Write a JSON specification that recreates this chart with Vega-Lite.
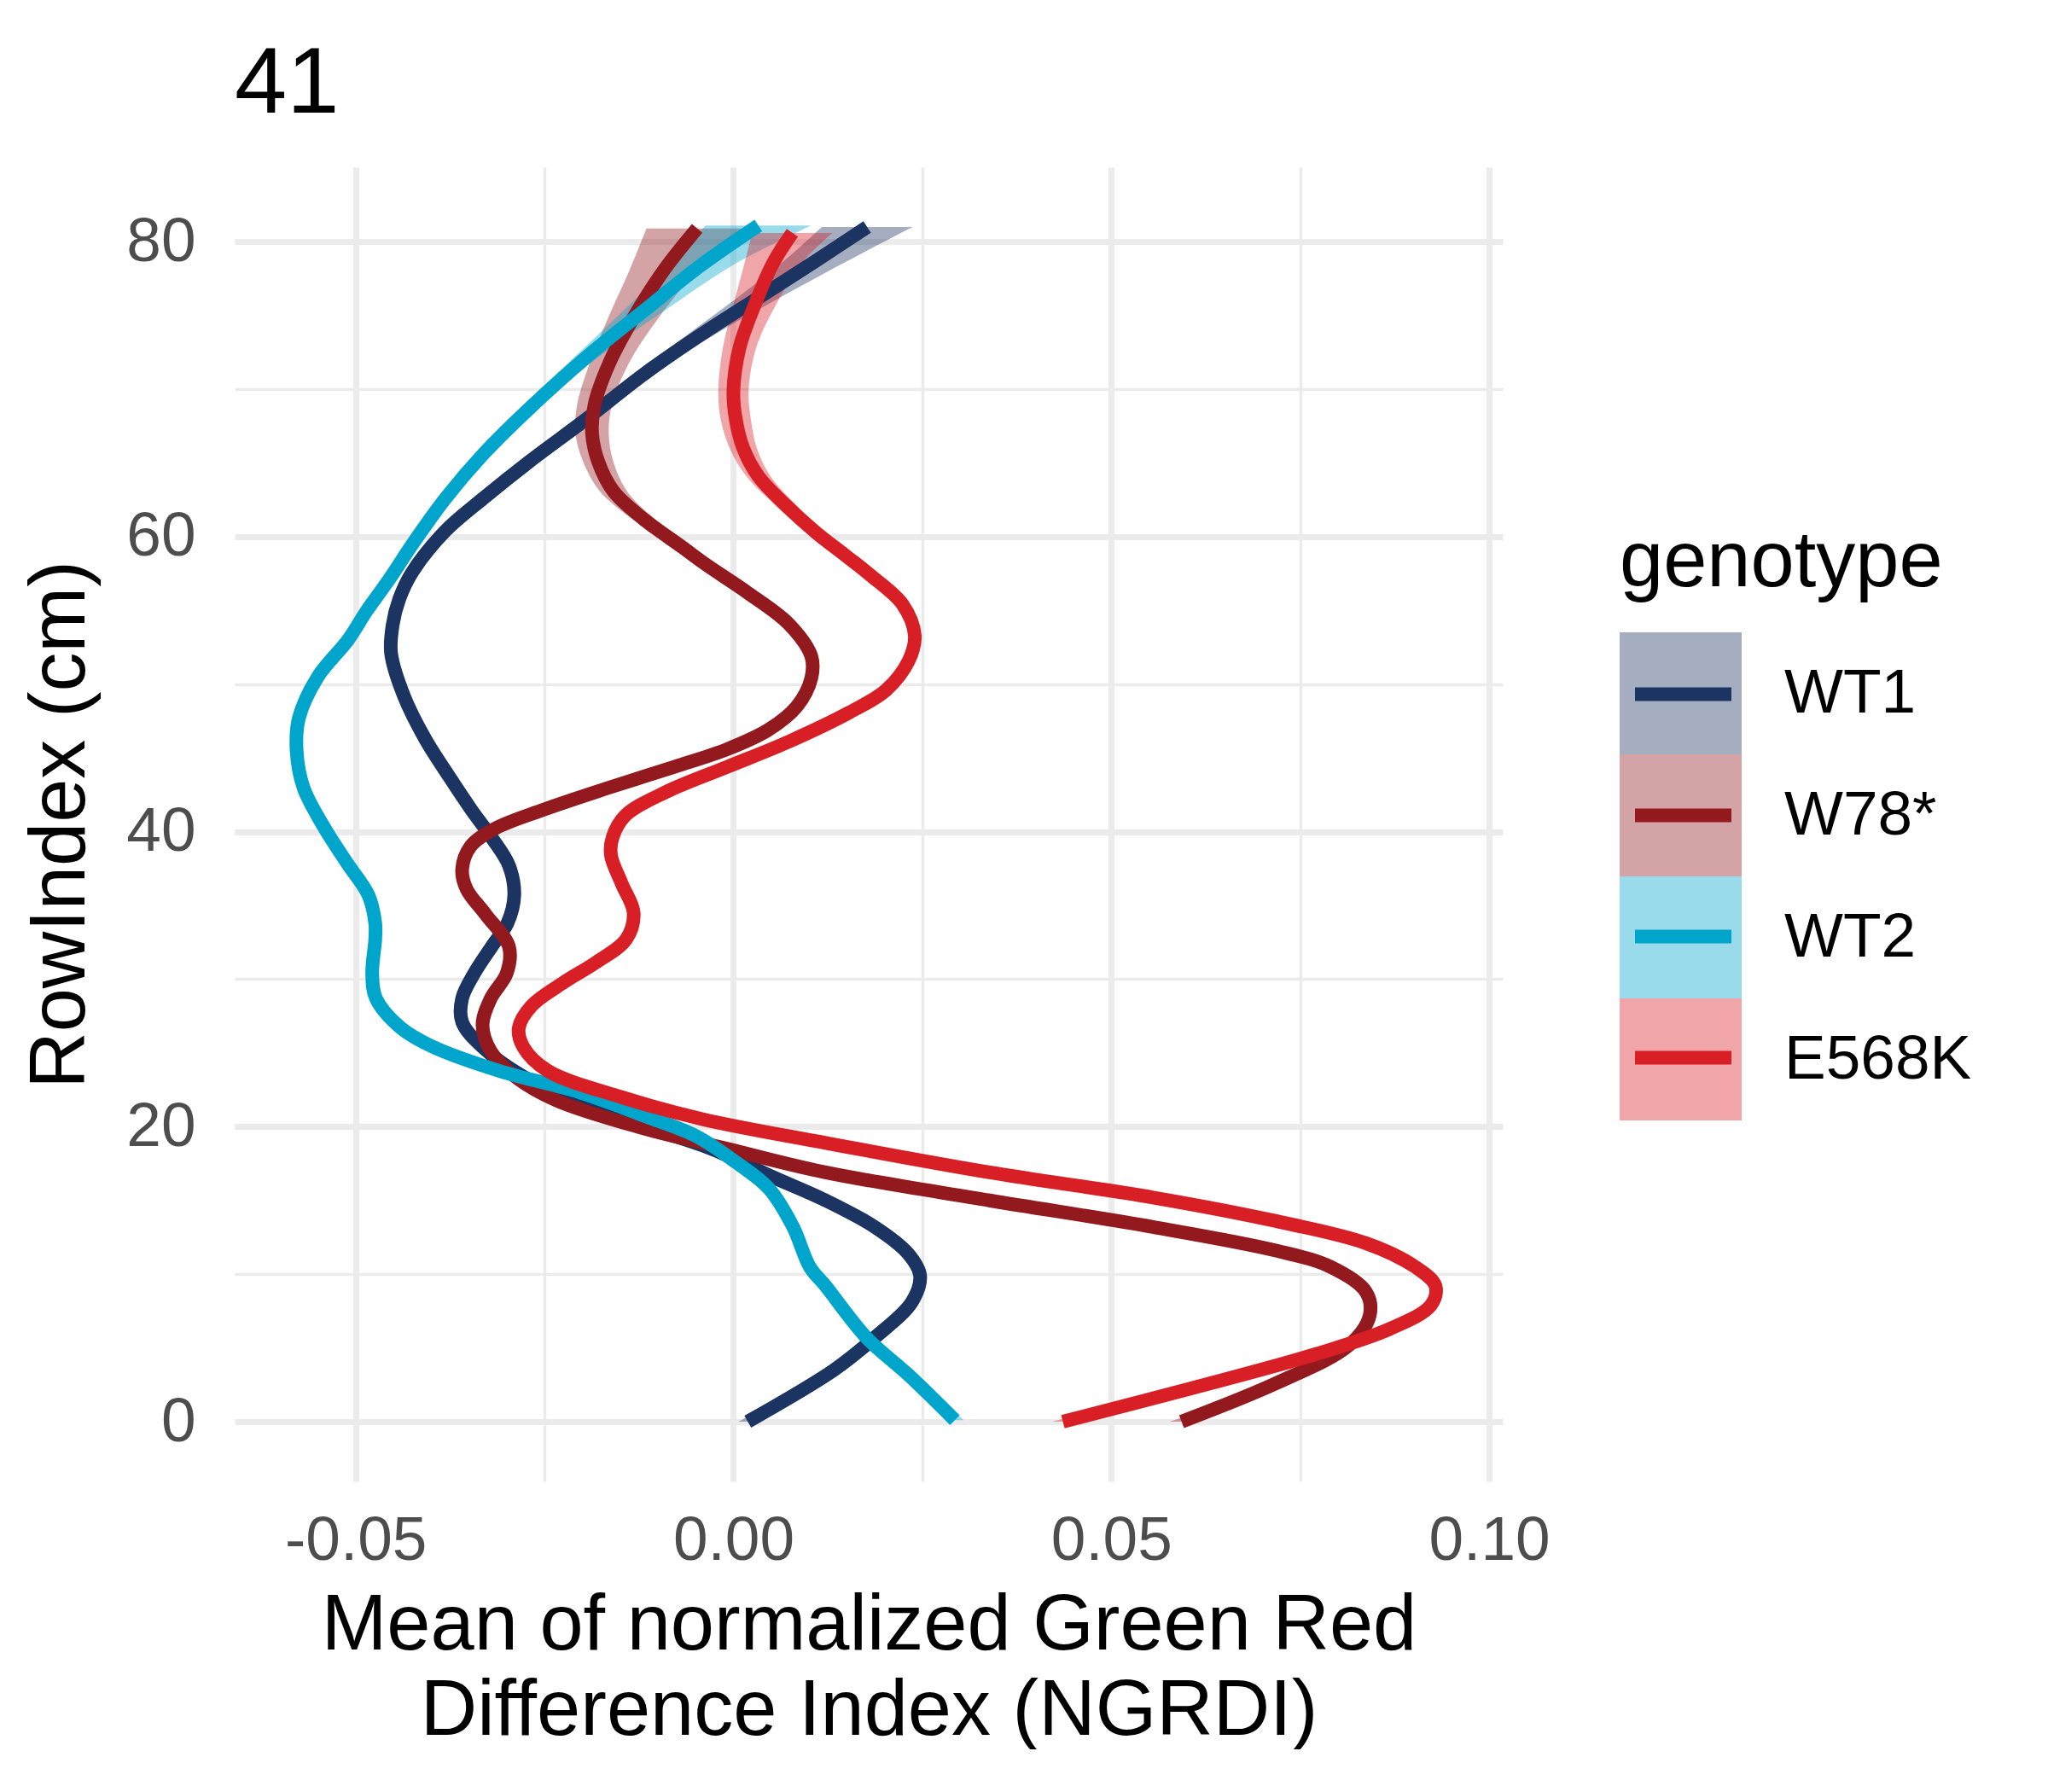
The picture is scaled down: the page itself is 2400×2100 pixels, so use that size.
{
  "$schema": "https://vega.github.io/schema/vega-lite/v6.json",
  "description": "Smoothed NGRDI by RowIndex for four genotypes (panel 41)",
  "width": 1486,
  "height": 1540,
  "padding": {"left": 24, "top": 44, "right": 0, "bottom": 0},
  "background": "white",
  "title": {
    "text": "41",
    "anchor": "start",
    "frame": "group",
    "baseline": "bottom",
    "offset": -69,
    "font": "Liberation Sans",
    "fontSize": 110,
    "fontWeight": "normal",
    "color": "black"
  },
  "data": {
    "values": [
      {"g": "WT1", "y": 0, "x": 0.0019, "lo": 0.0007, "hi": 0.0031},
      {"g": "WT1", "y": 3.5, "x": 0.0133, "lo": 0.0124, "hi": 0.0142},
      {"g": "WT1", "y": 5.7, "x": 0.0187, "lo": 0.018, "hi": 0.0194},
      {"g": "WT1", "y": 8.1, "x": 0.0236, "lo": 0.0229, "hi": 0.0243},
      {"g": "WT1", "y": 9.9, "x": 0.0247, "lo": 0.024, "hi": 0.0254},
      {"g": "WT1", "y": 11.4, "x": 0.0231, "lo": 0.0224, "hi": 0.0238},
      {"g": "WT1", "y": 13.2, "x": 0.0187, "lo": 0.018, "hi": 0.0194},
      {"g": "WT1", "y": 15, "x": 0.0122, "lo": 0.0115, "hi": 0.0129},
      {"g": "WT1", "y": 16.7, "x": 0.0047, "lo": 0.004, "hi": 0.0054},
      {"g": "WT1", "y": 18.5, "x": -0.0029, "lo": -0.0036, "hi": -0.0022},
      {"g": "WT1", "y": 20, "x": -0.0116, "lo": -0.0123, "hi": -0.0109},
      {"g": "WT1", "y": 21.6, "x": -0.0202, "lo": -0.0209, "hi": -0.0195},
      {"g": "WT1", "y": 23.4, "x": -0.0278, "lo": -0.0285, "hi": -0.0271},
      {"g": "WT1", "y": 25.4, "x": -0.0332, "lo": -0.0339, "hi": -0.0325},
      {"g": "WT1", "y": 27.1, "x": -0.0359, "lo": -0.0366, "hi": -0.0352},
      {"g": "WT1", "y": 28.7, "x": -0.0359, "lo": -0.0366, "hi": -0.0352},
      {"g": "WT1", "y": 30.4, "x": -0.0343, "lo": -0.035, "hi": -0.0336},
      {"g": "WT1", "y": 32.2, "x": -0.032, "lo": -0.0327, "hi": -0.0313},
      {"g": "WT1", "y": 33.8, "x": -0.0299, "lo": -0.0306, "hi": -0.0292},
      {"g": "WT1", "y": 35.7, "x": -0.029, "lo": -0.0297, "hi": -0.0283},
      {"g": "WT1", "y": 37.7, "x": -0.0297, "lo": -0.0304, "hi": -0.029},
      {"g": "WT1", "y": 39.6, "x": -0.032, "lo": -0.0327, "hi": -0.0313},
      {"g": "WT1", "y": 41.5, "x": -0.0347, "lo": -0.0354, "hi": -0.034},
      {"g": "WT1", "y": 43.8, "x": -0.0377, "lo": -0.0384, "hi": -0.037},
      {"g": "WT1", "y": 46.3, "x": -0.0408, "lo": -0.0415, "hi": -0.0401},
      {"g": "WT1", "y": 49.2, "x": -0.0436, "lo": -0.0443, "hi": -0.0429},
      {"g": "WT1", "y": 52.1, "x": -0.0453, "lo": -0.046, "hi": -0.0446},
      {"g": "WT1", "y": 54, "x": -0.0451, "lo": -0.0458, "hi": -0.0444},
      {"g": "WT1", "y": 55.8, "x": -0.0442, "lo": -0.0449, "hi": -0.0435},
      {"g": "WT1", "y": 57.6, "x": -0.0425, "lo": -0.0432, "hi": -0.0418},
      {"g": "WT1", "y": 60.4, "x": -0.0381, "lo": -0.0388, "hi": -0.0374},
      {"g": "WT1", "y": 62.6, "x": -0.0331, "lo": -0.0338, "hi": -0.0324},
      {"g": "WT1", "y": 65.1, "x": -0.027, "lo": -0.0278, "hi": -0.0262},
      {"g": "WT1", "y": 68, "x": -0.0194, "lo": -0.0203, "hi": -0.0185},
      {"g": "WT1", "y": 71, "x": -0.0119, "lo": -0.0131, "hi": -0.0107},
      {"g": "WT1", "y": 73.7, "x": -0.0043, "lo": -0.0061, "hi": -0.0025},
      {"g": "WT1", "y": 76.2, "x": 0.0033, "lo": 0.0005, "hi": 0.0061},
      {"g": "WT1", "y": 78.7, "x": 0.0109, "lo": 0.0067, "hi": 0.0151},
      {"g": "WT1", "y": 81, "x": 0.0177, "lo": 0.0117, "hi": 0.0237},

      {"g": "W78*", "y": 0, "x": 0.0593, "lo": 0.0578, "hi": 0.0608},
      {"g": "W78*", "y": 2.6, "x": 0.0718, "lo": 0.0708, "hi": 0.0728},
      {"g": "W78*", "y": 5.2, "x": 0.0815, "lo": 0.0807, "hi": 0.0823},
      {"g": "W78*", "y": 7.2, "x": 0.0842, "lo": 0.0834, "hi": 0.085},
      {"g": "W78*", "y": 8.8, "x": 0.0837, "lo": 0.0829, "hi": 0.0845},
      {"g": "W78*", "y": 10.5, "x": 0.079, "lo": 0.0782, "hi": 0.0798},
      {"g": "W78*", "y": 11.6, "x": 0.0718, "lo": 0.071, "hi": 0.0726},
      {"g": "W78*", "y": 13.2, "x": 0.0555, "lo": 0.0547, "hi": 0.0563},
      {"g": "W78*", "y": 15, "x": 0.0339, "lo": 0.0331, "hi": 0.0347},
      {"g": "W78*", "y": 16.9, "x": 0.0122, "lo": 0.0114, "hi": 0.013},
      {"g": "W78*", "y": 18.5, "x": -0.0008, "lo": -0.0016, "hi": 0.0},
      {"g": "W78*", "y": 20, "x": -0.0127, "lo": -0.0135, "hi": -0.0119},
      {"g": "W78*", "y": 21.8, "x": -0.0235, "lo": -0.0243, "hi": -0.0227},
      {"g": "W78*", "y": 23.4, "x": -0.0289, "lo": -0.0297, "hi": -0.0281},
      {"g": "W78*", "y": 25.1, "x": -0.0321, "lo": -0.0329, "hi": -0.0313},
      {"g": "W78*", "y": 26.9, "x": -0.0332, "lo": -0.034, "hi": -0.0324},
      {"g": "W78*", "y": 28.7, "x": -0.0321, "lo": -0.0329, "hi": -0.0313},
      {"g": "W78*", "y": 30.4, "x": -0.03, "lo": -0.0308, "hi": -0.0292},
      {"g": "W78*", "y": 32.2, "x": -0.0297, "lo": -0.0305, "hi": -0.0289},
      {"g": "W78*", "y": 34.4, "x": -0.0328, "lo": -0.0336, "hi": -0.032},
      {"g": "W78*", "y": 36.1, "x": -0.0353, "lo": -0.0361, "hi": -0.0345},
      {"g": "W78*", "y": 37.4, "x": -0.0359, "lo": -0.0367, "hi": -0.0351},
      {"g": "W78*", "y": 39, "x": -0.0348, "lo": -0.0356, "hi": -0.034},
      {"g": "W78*", "y": 40.2, "x": -0.0316, "lo": -0.0324, "hi": -0.0308},
      {"g": "W78*", "y": 41.5, "x": -0.0251, "lo": -0.0259, "hi": -0.0243},
      {"g": "W78*", "y": 42.9, "x": -0.017, "lo": -0.0178, "hi": -0.0162},
      {"g": "W78*", "y": 44.4, "x": -0.0078, "lo": -0.0086, "hi": -0.007},
      {"g": "W78*", "y": 45.6, "x": -0.0008, "lo": -0.0016, "hi": 0.0},
      {"g": "W78*", "y": 46.9, "x": 0.0046, "lo": 0.0038, "hi": 0.0054},
      {"g": "W78*", "y": 48.5, "x": 0.0084, "lo": 0.0076, "hi": 0.0092},
      {"g": "W78*", "y": 50.4, "x": 0.0103, "lo": 0.0095, "hi": 0.0111},
      {"g": "W78*", "y": 51.9, "x": 0.0103, "lo": 0.0095, "hi": 0.0111},
      {"g": "W78*", "y": 54.1, "x": 0.0073, "lo": 0.0065, "hi": 0.0081},
      {"g": "W78*", "y": 56.2, "x": 0.0019, "lo": 0.001, "hi": 0.0028},
      {"g": "W78*", "y": 58.1, "x": -0.0036, "lo": -0.0047, "hi": -0.0025},
      {"g": "W78*", "y": 59.3, "x": -0.0068, "lo": -0.0081, "hi": -0.0055},
      {"g": "W78*", "y": 61.2, "x": -0.0119, "lo": -0.0134, "hi": -0.0104},
      {"g": "W78*", "y": 63.1, "x": -0.0159, "lo": -0.0177, "hi": -0.0141},
      {"g": "W78*", "y": 65.1, "x": -0.0179, "lo": -0.0199, "hi": -0.0159},
      {"g": "W78*", "y": 67, "x": -0.0187, "lo": -0.0209, "hi": -0.0165},
      {"g": "W78*", "y": 68.9, "x": -0.0184, "lo": -0.0207, "hi": -0.0161},
      {"g": "W78*", "y": 71.8, "x": -0.0164, "lo": -0.019, "hi": -0.0138},
      {"g": "W78*", "y": 74.7, "x": -0.0134, "lo": -0.0167, "hi": -0.0101},
      {"g": "W78*", "y": 78, "x": -0.0093, "lo": -0.0138, "hi": -0.0048},
      {"g": "W78*", "y": 80.9, "x": -0.0048, "lo": -0.0115, "hi": 0.0019},

      {"g": "WT2", "y": 0.1, "x": 0.0293, "lo": 0.0281, "hi": 0.0305},
      {"g": "WT2", "y": 3.2, "x": 0.0231, "lo": 0.0222, "hi": 0.024},
      {"g": "WT2", "y": 5.7, "x": 0.0176, "lo": 0.0169, "hi": 0.0183},
      {"g": "WT2", "y": 9.2, "x": 0.0122, "lo": 0.0115, "hi": 0.0129},
      {"g": "WT2", "y": 10.5, "x": 0.0101, "lo": 0.0094, "hi": 0.0108},
      {"g": "WT2", "y": 13.2, "x": 0.0079, "lo": 0.0072, "hi": 0.0086},
      {"g": "WT2", "y": 15.8, "x": 0.0047, "lo": 0.004, "hi": 0.0054},
      {"g": "WT2", "y": 17.6, "x": 0.0003, "lo": -0.0004, "hi": 0.001},
      {"g": "WT2", "y": 19.4, "x": -0.0051, "lo": -0.0058, "hi": -0.0044},
      {"g": "WT2", "y": 20.7, "x": -0.0116, "lo": -0.0123, "hi": -0.0109},
      {"g": "WT2", "y": 22.3, "x": -0.0202, "lo": -0.0209, "hi": -0.0195},
      {"g": "WT2", "y": 23.8, "x": -0.0311, "lo": -0.0318, "hi": -0.0304},
      {"g": "WT2", "y": 25.4, "x": -0.0397, "lo": -0.0404, "hi": -0.039},
      {"g": "WT2", "y": 26.7, "x": -0.044, "lo": -0.0447, "hi": -0.0433},
      {"g": "WT2", "y": 28.7, "x": -0.0473, "lo": -0.048, "hi": -0.0466},
      {"g": "WT2", "y": 30.4, "x": -0.0478, "lo": -0.0485, "hi": -0.0471},
      {"g": "WT2", "y": 32.7, "x": -0.0474, "lo": -0.0481, "hi": -0.0467},
      {"g": "WT2", "y": 33.8, "x": -0.0474, "lo": -0.0481, "hi": -0.0467},
      {"g": "WT2", "y": 35.7, "x": -0.0483, "lo": -0.049, "hi": -0.0476},
      {"g": "WT2", "y": 38, "x": -0.0513, "lo": -0.052, "hi": -0.0506},
      {"g": "WT2", "y": 40.5, "x": -0.0544, "lo": -0.0551, "hi": -0.0537},
      {"g": "WT2", "y": 43, "x": -0.0569, "lo": -0.0576, "hi": -0.0562},
      {"g": "WT2", "y": 45.5, "x": -0.0578, "lo": -0.0585, "hi": -0.0571},
      {"g": "WT2", "y": 47.7, "x": -0.0575, "lo": -0.0582, "hi": -0.0568},
      {"g": "WT2", "y": 50.5, "x": -0.055, "lo": -0.0557, "hi": -0.0543},
      {"g": "WT2", "y": 53, "x": -0.051, "lo": -0.0517, "hi": -0.0503},
      {"g": "WT2", "y": 55, "x": -0.0485, "lo": -0.0492, "hi": -0.0478},
      {"g": "WT2", "y": 57, "x": -0.0457, "lo": -0.0464, "hi": -0.045},
      {"g": "WT2", "y": 59.7, "x": -0.0422, "lo": -0.0429, "hi": -0.0415},
      {"g": "WT2", "y": 62.6, "x": -0.0381, "lo": -0.0388, "hi": -0.0374},
      {"g": "WT2", "y": 65.6, "x": -0.0331, "lo": -0.0339, "hi": -0.0323},
      {"g": "WT2", "y": 68.7, "x": -0.027, "lo": -0.028, "hi": -0.026},
      {"g": "WT2", "y": 72.2, "x": -0.0194, "lo": -0.021, "hi": -0.0178},
      {"g": "WT2", "y": 75.3, "x": -0.0119, "lo": -0.0146, "hi": -0.0092},
      {"g": "WT2", "y": 78.4, "x": -0.0043, "lo": -0.0085, "hi": -0.0001},
      {"g": "WT2", "y": 81.1, "x": 0.0033, "lo": -0.0037, "hi": 0.0103},

      {"g": "E568K", "y": 0, "x": 0.0436, "lo": 0.0421, "hi": 0.0451},
      {"g": "E568K", "y": 2.3, "x": 0.0609, "lo": 0.0599, "hi": 0.0619},
      {"g": "E568K", "y": 4.6, "x": 0.0772, "lo": 0.0764, "hi": 0.078},
      {"g": "E568K", "y": 6.3, "x": 0.0869, "lo": 0.0861, "hi": 0.0877},
      {"g": "E568K", "y": 7.9, "x": 0.0923, "lo": 0.0915, "hi": 0.0931},
      {"g": "E568K", "y": 9.2, "x": 0.0929, "lo": 0.0921, "hi": 0.0937},
      {"g": "E568K", "y": 10.5, "x": 0.0902, "lo": 0.0894, "hi": 0.091},
      {"g": "E568K", "y": 12.1, "x": 0.0837, "lo": 0.0829, "hi": 0.0845},
      {"g": "E568K", "y": 13.6, "x": 0.0718, "lo": 0.071, "hi": 0.0726},
      {"g": "E568K", "y": 15.2, "x": 0.0555, "lo": 0.0547, "hi": 0.0563},
      {"g": "E568K", "y": 16.9, "x": 0.0339, "lo": 0.0331, "hi": 0.0347},
      {"g": "E568K", "y": 18.9, "x": 0.0122, "lo": 0.0114, "hi": 0.013},
      {"g": "E568K", "y": 20.5, "x": -0.004, "lo": -0.0048, "hi": -0.0032},
      {"g": "E568K", "y": 22, "x": -0.0148, "lo": -0.0156, "hi": -0.014},
      {"g": "E568K", "y": 23.8, "x": -0.0246, "lo": -0.0254, "hi": -0.0238},
      {"g": "E568K", "y": 25.4, "x": -0.0278, "lo": -0.0286, "hi": -0.027},
      {"g": "E568K", "y": 26.7, "x": -0.0284, "lo": -0.0292, "hi": -0.0276},
      {"g": "E568K", "y": 28.2, "x": -0.0267, "lo": -0.0275, "hi": -0.0259},
      {"g": "E568K", "y": 29.8, "x": -0.0224, "lo": -0.0232, "hi": -0.0216},
      {"g": "E568K", "y": 31.1, "x": -0.0183, "lo": -0.0191, "hi": -0.0175},
      {"g": "E568K", "y": 32.7, "x": -0.0142, "lo": -0.015, "hi": -0.0134},
      {"g": "E568K", "y": 34.5, "x": -0.0132, "lo": -0.014, "hi": -0.0124},
      {"g": "E568K", "y": 36.5, "x": -0.0148, "lo": -0.0156, "hi": -0.014},
      {"g": "E568K", "y": 38.4, "x": -0.0162, "lo": -0.017, "hi": -0.0154},
      {"g": "E568K", "y": 39.6, "x": -0.016, "lo": -0.0168, "hi": -0.0152},
      {"g": "E568K", "y": 41.1, "x": -0.0143, "lo": -0.0151, "hi": -0.0135},
      {"g": "E568K", "y": 42.7, "x": -0.0089, "lo": -0.0097, "hi": -0.0081},
      {"g": "E568K", "y": 44.4, "x": -0.0008, "lo": -0.0016, "hi": 0.0},
      {"g": "E568K", "y": 46.1, "x": 0.0073, "lo": 0.0065, "hi": 0.0081},
      {"g": "E568K", "y": 48.1, "x": 0.0154, "lo": 0.0146, "hi": 0.0162},
      {"g": "E568K", "y": 49.6, "x": 0.0202, "lo": 0.0194, "hi": 0.021},
      {"g": "E568K", "y": 51.6, "x": 0.0232, "lo": 0.0224, "hi": 0.024},
      {"g": "E568K", "y": 53.3, "x": 0.024, "lo": 0.0232, "hi": 0.0248},
      {"g": "E568K", "y": 55.4, "x": 0.0224, "lo": 0.0216, "hi": 0.0232},
      {"g": "E568K", "y": 57.4, "x": 0.0181, "lo": 0.0172, "hi": 0.019},
      {"g": "E568K", "y": 58.7, "x": 0.0149, "lo": 0.0139, "hi": 0.0159},
      {"g": "E568K", "y": 60.3, "x": 0.0109, "lo": 0.0097, "hi": 0.0121},
      {"g": "E568K", "y": 62.2, "x": 0.0068, "lo": 0.0054, "hi": 0.0082},
      {"g": "E568K", "y": 64.1, "x": 0.0033, "lo": 0.0017, "hi": 0.0049},
      {"g": "E568K", "y": 66, "x": 0.0013, "lo": -0.0005, "hi": 0.0031},
      {"g": "E568K", "y": 68, "x": 0.0003, "lo": -0.0017, "hi": 0.0023},
      {"g": "E568K", "y": 69.9, "x": 0.0, "lo": -0.002, "hi": 0.002},
      {"g": "E568K", "y": 72.8, "x": 0.0008, "lo": -0.0014, "hi": 0.003},
      {"g": "E568K", "y": 75.7, "x": 0.0028, "lo": 0.0, "hi": 0.0056},
      {"g": "E568K", "y": 78.6, "x": 0.0053, "lo": 0.0015, "hi": 0.0091},
      {"g": "E568K", "y": 80.6, "x": 0.0078, "lo": 0.0025, "hi": 0.0131}
    ]
  },
  "encoding": {
    "y": {
      "field": "y",
      "type": "quantitative",
      "title": "RowIndex (cm)",
      "scale": {"domain": [-4.05, 85.05], "nice": false, "zero": false},
      "axis": {
        "values": [0, 10, 20, 30, 40, 50, 60, 70, 80],
        "labelExpr": "datum.value % 20 === 0 ? datum.label : ''",
        "gridWidth": {"condition": {"test": "datum.value % 20 === 0", "value": 7}, "value": 3.5},
        "labelPadding": 46,
        "titlePadding": 30
      }
    }
  },
  "layer": [
    {
      "mark": {"type": "area", "orient": "horizontal", "fillOpacity": 0.4, "interpolate": "catmull-rom"},
      "encoding": {
        "x": {
          "field": "lo",
          "type": "quantitative",
          "title": ["Mean of normalized Green Red", "Difference Index (NGRDI)"],
          "scale": {"domain": [-0.066, 0.1018], "nice": false, "zero": false},
          "axis": {
            "values": [-0.05, -0.025, 0, 0.025, 0.05, 0.075, 0.1],
            "labelExpr": "abs(datum.value * 20 - round(datum.value * 20)) < 0.001 ? replace(format(datum.value, '.2f'), '\u2212', '-') : ''",
            "gridWidth": {"condition": {"test": "abs(datum.value * 20 - round(datum.value * 20)) < 0.001", "value": 7}, "value": 3.5},
            "labelPadding": 33,
            "titlePadding": 17
          }
        },
        "x2": {"field": "hi"},
        "fill": {
          "field": "g",
          "type": "nominal",
          "scale": {
            "domain": ["WT1", "W78*", "WT2", "E568K"],
            "range": ["#1c3461", "#921a1f", "#00a5cb", "#d91f26"]
          },
          "legend": {
            "title": "genotype",
            "orient": "none",
            "legendX": 1623,
            "legendY": 418,
            "padding": 0,
            "titlePadding": 35,
            "titleLimit": 800,
            "symbolType": "square",
            "symbolSize": 20449,
            "symbolOpacity": 0.4,
            "symbolStrokeWidth": 0,
            "rowPadding": 0,
            "labelOffset": 50
          }
        }
      }
    },
    {
      "mark": {"type": "line", "strokeWidth": 16, "interpolate": "catmull-rom"},
      "encoding": {
        "x": {
          "field": "x",
          "type": "quantitative",
          "title": ["Mean of normalized Green Red", "Difference Index (NGRDI)"],
          "scale": {"domain": [-0.066, 0.1018], "nice": false, "zero": false},
          "axis": {
            "values": [-0.05, -0.025, 0, 0.025, 0.05, 0.075, 0.1],
            "labelExpr": "abs(datum.value * 20 - round(datum.value * 20)) < 0.001 ? replace(format(datum.value, '.2f'), '\u2212', '-') : ''",
            "gridWidth": {"condition": {"test": "abs(datum.value * 20 - round(datum.value * 20)) < 0.001", "value": 7}, "value": 3.5},
            "labelPadding": 33,
            "titlePadding": 17
          }
        },
        "order": {"field": "y", "type": "quantitative"},
        "stroke": {
          "field": "g",
          "type": "nominal",
          "scale": {
            "domain": ["E568K", "WT2", "W78*", "WT1"],
            "range": ["#d91f26", "#00a5cb", "#921a1f", "#1c3461"]
          },
          "legend": {
            "title": null,
            "orient": "none",
            "legendX": 1633,
            "legendY": 553,
            "padding": 0,
            "values": ["WT1", "W78*", "WT2", "E568K"],
            "symbolType": "stroke",
            "symbolSize": 12769,
            "symbolStrokeWidth": 16,
            "rowPadding": 40,
            "labelExpr": "''"
          }
        }
      }
    }
  ],
  "config": {
    "font": "Liberation Sans",
    "view": {"stroke": null},
    "axis": {
      "domain": false,
      "ticks": false,
      "gridColor": "#ebebeb",
      "labelColor": "#4d4d4d",
      "labelFontSize": 73,
      "labelFont": "Liberation Sans",
      "titleFont": "Liberation Sans",
      "titleFontSize": 92,
      "titleFontWeight": "normal",
      "titleColor": "black",
      "titleLineHeight": 100,
      "labelFlush": false,
      "labelOverlap": false
    },
    "legend": {
      "titleFont": "Liberation Sans",
      "titleFontSize": 92,
      "titleFontWeight": "normal",
      "titleColor": "black",
      "labelFont": "Liberation Sans",
      "labelFontSize": 73,
      "labelColor": "black",
      "labelLimit": 400
    }
  }
}
